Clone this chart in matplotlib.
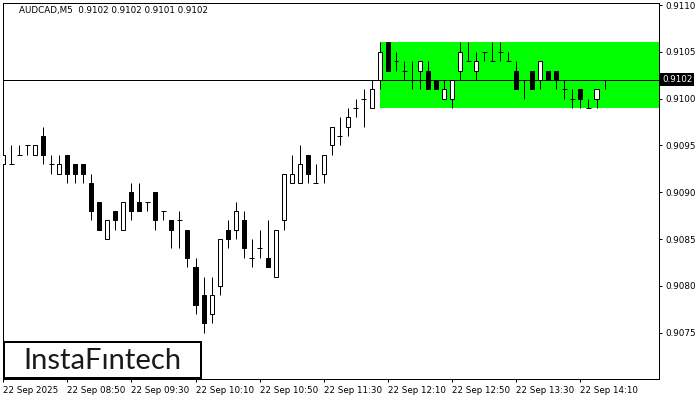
import matplotlib
matplotlib.use("Agg")
import matplotlib.pyplot as plt
from matplotlib.patches import Rectangle

# ---- data (AUDCAD M5, 22 Sep 2025, from 08:10) ----
opens = [0.9093, 0.9093, 0.9094, 0.9095, 0.9094, 0.9096, 0.9093, 0.9092, 0.9094, 0.9093,
         0.9093, 0.9091, 0.9089, 0.9085, 0.9088, 0.9086, 0.9090, 0.9089, 0.9089, 0.9090,
         0.9088, 0.9087, 0.9087, 0.9086, 0.9082, 0.9079, 0.9077, 0.9080, 0.9086, 0.9086,
         0.9087, 0.9083, 0.9084, 0.9083, 0.9081, 0.9087, 0.9091, 0.9091, 0.9094, 0.9091,
         0.9092, 0.9095, 0.9096, 0.9097, 0.9099, 0.9100, 0.9099, 0.9102, 0.9106, 0.9104,
         0.9103, 0.9102, 0.9103, 0.9103, 0.9102, 0.9100, 0.9100, 0.9103, 0.9104, 0.9103,
         0.9105, 0.9104, 0.9105, 0.9104, 0.9103, 0.9102, 0.9103, 0.9102, 0.9103, 0.9103,
         0.9101, 0.9100, 0.9101, 0.9099, 0.9100, 0.9102]
highs = [0.9094, 0.9095, 0.9095, 0.9095, 0.9095, 0.9097, 0.9094, 0.9094, 0.9094, 0.9093,
         0.9093, 0.9092, 0.9089, 0.9087, 0.9088, 0.9089, 0.9091, 0.9091, 0.9089, 0.9090,
         0.9088, 0.9087, 0.9088, 0.9086, 0.9083, 0.9081, 0.9081, 0.9085, 0.9087, 0.9089,
         0.9088, 0.9085, 0.9086, 0.9087, 0.9086, 0.9092, 0.9094, 0.9095, 0.9094, 0.9093,
         0.9094, 0.9097, 0.9098, 0.9099, 0.9100, 0.9101, 0.9102, 0.9106, 0.9106, 0.9105,
         0.9104, 0.9104, 0.9104, 0.9104, 0.9102, 0.9102, 0.9102, 0.9106, 0.9106, 0.9105,
         0.9105, 0.9106, 0.9106, 0.9105, 0.9104, 0.9102, 0.9103, 0.9104, 0.9103, 0.9103,
         0.9102, 0.9101, 0.9101, 0.9100, 0.9101, 0.9102]
lows = [0.9093, 0.9093, 0.9094, 0.9094, 0.9094, 0.9093, 0.9092, 0.9092, 0.9091, 0.9091,
        0.9091, 0.9087, 0.9086, 0.9085, 0.9086, 0.9086, 0.9087, 0.9088, 0.9088, 0.9086,
        0.9087, 0.9084, 0.9084, 0.9082, 0.9077, 0.9075, 0.9076, 0.9079, 0.9084, 0.9085,
        0.9083, 0.9082, 0.9083, 0.9082, 0.9081, 0.9086, 0.9091, 0.9091, 0.9091, 0.9091,
        0.9091, 0.9094, 0.9095, 0.9096, 0.9098, 0.9097, 0.9099, 0.9101, 0.9103, 0.9103,
        0.9102, 0.9101, 0.9101, 0.9101, 0.9101, 0.9100, 0.9099, 0.9102, 0.9104, 0.9102,
        0.9104, 0.9104, 0.9104, 0.9104, 0.9101, 0.9100, 0.9101, 0.9101, 0.9102, 0.9101,
        0.9100, 0.9099, 0.9099, 0.9099, 0.9099, 0.9101]
closes = [0.9094, 0.9093, 0.9094, 0.9095, 0.9095, 0.9094, 0.9093, 0.9093, 0.9092, 0.9092,
          0.9092, 0.9088, 0.9086, 0.9087, 0.9087, 0.9089, 0.9088, 0.9088, 0.9089, 0.9087,
          0.9088, 0.9086, 0.9087, 0.9083, 0.9078, 0.9076, 0.9079, 0.9085, 0.9085, 0.9088,
          0.9084, 0.9083, 0.9084, 0.9082, 0.9086, 0.9092, 0.9092, 0.9093, 0.9092, 0.9091,
          0.9094, 0.9097, 0.9096, 0.9098, 0.9099, 0.9100, 0.9101, 0.9105, 0.9103, 0.9104,
          0.9103, 0.9102, 0.9104, 0.9101, 0.9101, 0.9101, 0.9102, 0.9105, 0.9104, 0.9104,
          0.9105, 0.9104, 0.9105, 0.9104, 0.9101, 0.9102, 0.9101, 0.9104, 0.9102, 0.9102,
          0.9101, 0.9100, 0.9100, 0.9099, 0.9101, 0.9102]

tick_labels = ["22 Sep 2025", "22 Sep 08:50", "22 Sep 09:30", "22 Sep 10:10", "22 Sep 10:50",
               "22 Sep 11:30", "22 Sep 12:10", "22 Sep 12:50", "22 Sep 13:30", "22 Sep 14:10"]
y_ticks = [0.9075, 0.9080, 0.9085, 0.9090, 0.9095, 0.9100, 0.9105, 0.9110]
bid = 0.9102
zone_start = 47
zone_top = 0.9106
zone_bottom = 0.9099
title = "AUDCAD,M5  0.9102 0.9102 0.9101 0.9102"

W, H = 700, 400
PX = 0.72  # one pixel in points
FONT = 6.3

fig = plt.figure(figsize=(7, 4), dpi=100)
fig.patch.set_facecolor("white")
ax = fig.add_axes([2.7 / W, 1 - 379 / H, (659.3 - 2.7) / W, (379 - 2.7) / H])
ax.set_facecolor("white")

x_left, x_right = -0.04, 81.83
ax.set_xlim(x_left, x_right)
ax.set_ylim(0.907006, 0.911025)

# green zone
ax.add_patch(Rectangle((zone_start, zone_bottom), x_right - zone_start + 1, zone_top - zone_bottom,
                       facecolor="#00ff00", edgecolor="none", zorder=1))
# bid line
ax.axhline(bid, color="black", lw=PX, zorder=2)

bw = 0.5
for i, (o, h, l, c) in enumerate(zip(opens, highs, lows, closes)):
    ax.plot([i, i], [l, h], color="black", lw=PX, zorder=3, solid_capstyle="butt")
    if abs(o - c) < 1e-9:
        ax.plot([i - bw / 2 - 0.06, i + bw / 2 + 0.06], [o, o], color="black", lw=PX, zorder=4,
                solid_capstyle="butt")
    else:
        fc = "white" if c > o else "black"
        ax.add_patch(Rectangle((i - bw / 2, min(o, c)), bw, abs(c - o),
                               facecolor=fc, edgecolor="black", lw=PX, zorder=4))

# axes styling
for s in ax.spines.values():
    s.set_color("black")
    s.set_linewidth(PX)
ax.yaxis.tick_right()
ax.set_yticks(y_ticks)
ax.set_yticklabels([f"{v:.4f}" for v in y_ticks])
ax.tick_params(axis="y", direction="out", length=3 * PX, width=PX, pad=2, labelsize=FONT,
               colors="black")
ax.set_xticks(list(range(0, 8 * len(tick_labels), 8)))
ax.set_xticklabels(tick_labels, ha="left")
ax.tick_params(axis="x", direction="out", length=3 * PX, width=PX, pad=3, labelsize=FONT,
               colors="black")
for lbl in ax.get_xticklabels():
    lbl.set_horizontalalignment("left")

# bid price label on the axis
fig.add_artist(Rectangle((659.8 / W, 1 - 85.7 / H), (694 - 659.8) / W, 12.4 / H,
                         transform=fig.transFigure, facecolor="black", edgecolor="none", zorder=10))
fig.text(662 / W, 1 - 79.6 / H, "0.9102", color="white", fontsize=FONT, va="center", ha="left",
         zorder=11)

# title
fig.text(19 / W, 1 - 11 / H, title, fontsize=FONT, va="center", ha="left", color="black")

# logo box
fig.add_artist(Rectangle((3.7 / W, 1 - 378 / H), (200.7 - 3.7) / W, (378 - 341.7) / H,
                         transform=fig.transFigure, facecolor="white", edgecolor="black",
                         lw=2 * PX, zorder=10))
fig.text(102 / W, 1 - 369 / H, "InstaFıntech", fontsize=21, family="Lato", color="#1a1a1a",
         ha="center", va="baseline", zorder=11)

fig.savefig("out.png", dpi=100, facecolor="white")
